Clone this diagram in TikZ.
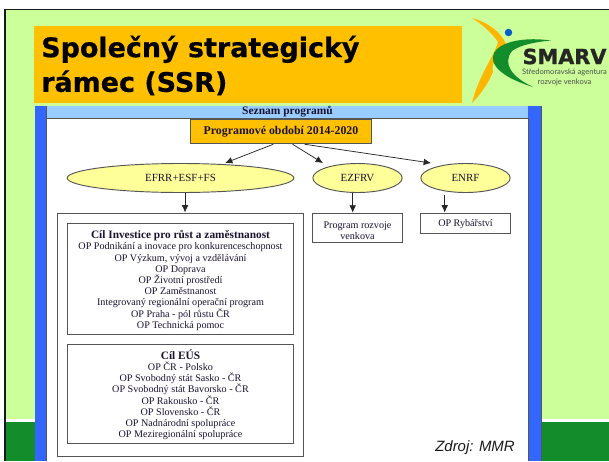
\documentclass[tikz,border=0pt]{standalone}
\usepackage{fontspec}
\setmainfont{Liberation Serif}
\newfontfamily\titlefont[BoldFeatures={FakeBold=0.5}]{DejaVu Sans}
\newfontfamily\logoheavy[BoldFeatures={FakeBold=1.2}]{DejaVu Sans}
\newfontfamily\arialfont{Liberation Sans}
\newfontfamily\logofont{Lato}
\usetikzlibrary{shapes.geometric,arrows.meta}
\definecolor{lgreen}{HTML}{CCFF99}
\definecolor{dgreen}{HTML}{138D2B}
\definecolor{orangeb}{HTML}{FFC000}
\definecolor{blueb}{HTML}{3366FF}
\definecolor{lblue}{HTML}{99CCFF}
\definecolor{ybox}{HTML}{FFFF99}
\definecolor{edge}{HTML}{555555}
\definecolor{txt}{HTML}{1A1230}
\tikzset{
  x=0.75pt,y=-0.75pt,
  box/.style={draw=edge,line width=0.7pt,fill=white,inner sep=0pt,align=center,text=txt,
    font=\fontsize{7.6}{8.4}\selectfont},
  oval/.style={ellipse,draw=edge,line width=0.7pt,fill=ybox,inner sep=0pt,text=txt,
    minimum height=21.75pt,font=\fontsize{8.2}{9}\selectfont},
  arr/.style={draw=black!85,line width=0.55pt,-{Latex[length=5.5pt,width=5pt]}},
}
\newcommand{\topgap}{\rule{0pt}{8.6pt}}
\begin{document}
\begin{tikzpicture}
\useasboundingbox (0,0) rectangle (609,461);
\fill[white] (0,0) rectangle (609,461);
% slide
\fill[lgreen] (5,9) rectangle (609,419);
\fill[dgreen] (5,422) rectangle (609,461);
\fill[black!90] (4,8.5) rectangle (609,10);
\fill[black!90] (4,8.5) rectangle (6,461);
% title
\node[fill=orangeb,minimum width=321pt,minimum height=57.75pt,inner sep=0pt,anchor=north west] (title) at (34,26) {};
\node[anchor=west,align=left,inner sep=0pt,text=black,font={\titlefont\bfseries\fontsize{20.2}{26}\selectfont}] (titletext) at (41,65.5) {Společný strategický\\rámec (SSR)};
% panel
\fill[blueb] (34.5,106) rectangle (46.5,461);
\fill[edge] (46,106) rectangle (47,461);
\fill[white] (47,106) rectangle (528,461);
\fill[lblue] (47,106) rectangle (528,117.5);
\fill[edge] (47,117.5) rectangle (528,118.5);
\fill[blueb] (528,106) rectangle (541,461);
\fill[edge] (527.5,118) rectangle (528.5,461);
\fill[edge] (541,106) rectangle (542,461);
\node[inner sep=0pt,text=txt,font={\bfseries\fontsize{8.6}{9}\selectfont}] (list) at (287.5,112) {Seznam programů};
% diagram
\node[box,fill=orangeb,minimum width=136pt,minimum height=18.4pt,font={\bfseries\fontsize{8.9}{10}\selectfont}] (period) at (281,131.5) {Programové období 2014-2020};
\node[oval,minimum width=170pt] (efrr) at (180.5,178) {EFRR+ESF+FS};
\node[oval,minimum width=67pt] (ezfrv) at (357.5,178) {EZFRV};
\node[oval,minimum width=67pt] (enrf) at (465.5,178) {ENRF};
\node[draw=edge,line width=0.7pt,fill=white,minimum width=184.5pt,minimum height=182.3pt,inner sep=0pt] (outer) at (180.75,334.5) {};
\node[box,minimum width=170pt,minimum height=83.6pt] (cil1) at (180.5,278.75) {{\bfseries\fontsize{8.5}{8.4}\selectfont\topgap Cíl Investice pro růst a zaměstnanost}\\OP Podnikání a inovace pro konkurenceschopnost\\OP Výzkum, vývoj a vzdělávání\\OP Doprava\\OP Životní prostředí\\OP Zaměstnanost\\Integrovaný regionální operační program\\OP Praha - pól růstu ČR\\OP Technická pomoc};
\node[box,minimum width=170pt,minimum height=74.2pt] (cil2) at (180.5,393.8) {{\bfseries\fontsize{8.5}{8.4}\selectfont\topgap Cíl EÚS}\\OP ČR - Polsko\\OP Svobodný stát Sasko - ČR\\OP Svobodný stát Bavorsko - ČR\\OP Rakousko - ČR\\OP Slovensko - ČR\\OP Nadnárodní spolupráce\\OP Meziregionální spolupráce};
\node[box,minimum width=67pt,minimum height=22.3pt] (prv) at (357.5,228) {\topgap Program rozvoje\\venkova};
\node[box,minimum width=67pt,minimum height=15pt] (ryb) at (465.5,223) {\rule{0pt}{7pt}OP Rybářství};
% connectors
\draw[arr] ([xshift=62.6pt]period.south west) -- ([xshift=33.4pt]efrr.north);
\draw[arr] ([xshift=77pt]period.south west) -- ([xshift=-25.9pt]ezfrv.north);
\draw[arr] ([xshift=86pt]period.south west) -- ([xshift=-25.9pt]enrf.north);
\draw[arr] ([xshift=3.4pt]efrr.south) -- ([xshift=3.4pt]efrr.south |- outer.north);
\draw[arr] ([xshift=-3.6pt]ezfrv.south) -- ([xshift=-3.6pt]prv.north);
\draw[arr] ([xshift=-15.6pt,yshift=-1.5pt]enrf.south) -- ([xshift=-15.6pt]ryb.north);
% logo
\fill[orangeb!95!red] (472,18) .. controls (489,23) and (501,32) .. (506,44)
  .. controls (495,56) and (491,66) .. (493,72) .. controls (488,84) and (480,95) .. (472,103)
  .. controls (476,85) and (486,68) .. (492,56) .. controls (495,50) and (497,46) .. (498,42) .. controls (492,33) and (483,25) .. (472,18) -- cycle;
\fill[dgreen] (551,40.5) .. controls (526,37) and (506,41) .. (497,49)
  .. controls (488,58) and (491,74) .. (533,87)
  .. controls (512,77) and (502,64) .. (512,51) .. controls (520,45) and (535,42) .. (551,40.5) -- cycle;
\fill[blue!55!cyan!80!black] (508.5,32.5) circle[radius=3.7];
\node[inner sep=0pt,text=black!85,font={\logoheavy\bfseries\fontsize{15.6}{18}\selectfont}] (smarv) at (564.5,56.5) {SMARV};
\node[inner sep=0pt,text=black!70,align=center,font={\logofont\fontsize{5.7}{7.6}\selectfont}] (agency) at (564.5,77.5) {Středomoravská agentura\\rozvoje venkova};
\node[inner sep=0pt,text=black!90,font={\arialfont\itshape\fontsize{11.2}{12}\selectfont}] (src) at (475,448) {Zdroj: MMR};
\end{tikzpicture}
\end{document}
